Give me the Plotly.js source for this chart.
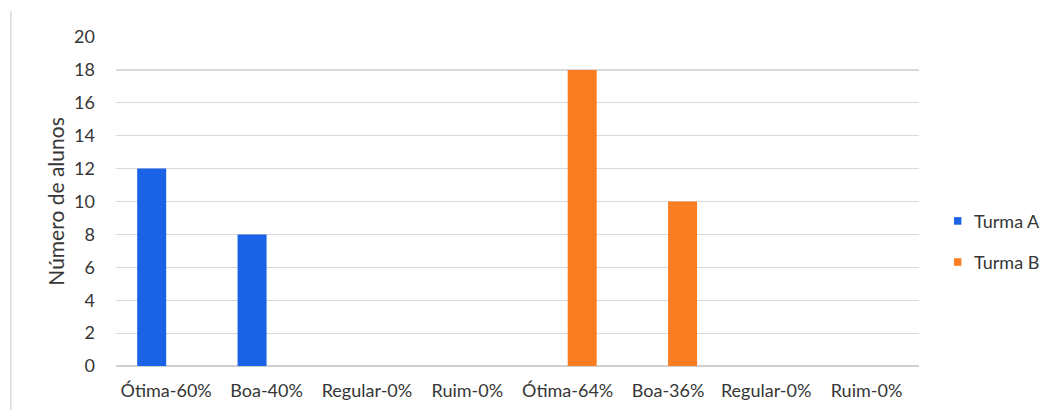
<!DOCTYPE html>
<html>
<head>
<meta charset="utf-8">
<script src="https://cdn.plot.ly/plotly-3.0.1.min.js"></script>
<style>
  html, body { margin: 0; padding: 0; background: #ffffff; }
  #chart { width: 1050px; height: 410px; }
</style>
</head>
<body>
<div id="chart"></div>
<script>
// Avaliação das turmas: número de alunos por conceito
const categorias = ["Ótima-60%", "Boa-40%", "Regular-0%", "Ruim-0%",
                    "Ótima-64%", "Boa-36%", "Regular-0% ", "Ruim-0% "];
const turmaA = [12, 8, 0, 0, 0, 0, 0, 0];
const turmaB = [0, 0, 0, 0, 18, 10, 0, 0];
const nomesSeries = ["Turma A", "Turma B"];
const coresSeries = ["#1b63e6", "#fa7d22"];
const yTicks = [0, 2, 4, 6, 8, 10, 12, 14, 16, 18, 20];

const fonte = "Lato, 'Open Sans', sans-serif";
const corTexto = "#363636";

const traces = [turmaA, turmaB].map((vals, i) => ({
  type: "bar",
  x: categorias,
  y: vals,
  name: nomesSeries[i],
  marker: { color: coresSeries[i] },
  hoverinfo: "x+y+name",
  showlegend: false
}));

// Legenda desenhada à direita: quadrado colorido + rótulo
const legendShapes = [];
const legendNotes = [];
nomesSeries.forEach((nome, i) => {
  const yc = 0.441 - i * 0.125;
  legendShapes.push({
    type: "rect", xref: "paper", yref: "paper",
    x0: 1.0436, x1: 1.0528, y0: yc - 0.0115, y1: yc + 0.0115,
    fillcolor: coresSeries[i], line: { width: 0 }
  });
  legendNotes.push({
    xref: "paper", yref: "paper", x: 1.066, y: yc,
    xanchor: "left", yanchor: "middle", showarrow: false,
    text: nome, font: { family: fonte, size: 18, color: corTexto }
  });
});

// Moldura cinza à esquerda da área do gráfico
legendShapes.push({
  type: "line", xref: "paper", yref: "paper",
  x0: -0.131, x1: -0.131, y0: -0.135, y1: 1.078,
  line: { color: "#d9d9d9", width: 1.5 }
});

const layout = {
  width: 1050,
  height: 410,
  margin: { l: 116, r: 131, t: 37, b: 44 },
  paper_bgcolor: "#ffffff",
  plot_bgcolor: "#ffffff",
  barmode: "group",
  bargap: 0.422,
  bargroupgap: 0,
  font: { family: fonte, color: corTexto },
  xaxis: {
    type: "category",
    categoryorder: "array",
    categoryarray: categorias,
    showgrid: false,
    showline: false,
    ticks: "",
    ticklabelstandoff: 12,
    tickfont: { family: fonte, size: 18, color: corTexto },
    fixedrange: true
  },
  yaxis: {
    range: [0, 20],
    tickvals: yTicks,
    ticktext: yTicks.map(String),
    showgrid: true,
    gridcolor: "#d9d9d9",
    gridwidth: 1.2,
    zeroline: true,
    zerolinecolor: "#cfcfcf",
    zerolinewidth: 1.2,
    showline: false,
    ticks: "",
    ticklabelstandoff: 20,
    tickfont: { family: fonte, size: 18, color: corTexto },
    title: {
      text: "Número de alunos",
      font: { family: fonte, size: 21, color: corTexto },
      standoff: 3
    },
    fixedrange: true
  },
  shapes: legendShapes,
  annotations: legendNotes
};

Plotly.newPlot("chart", traces, layout, { displayModeBar: false, staticPlot: true });
</script>
</body>
</html>
